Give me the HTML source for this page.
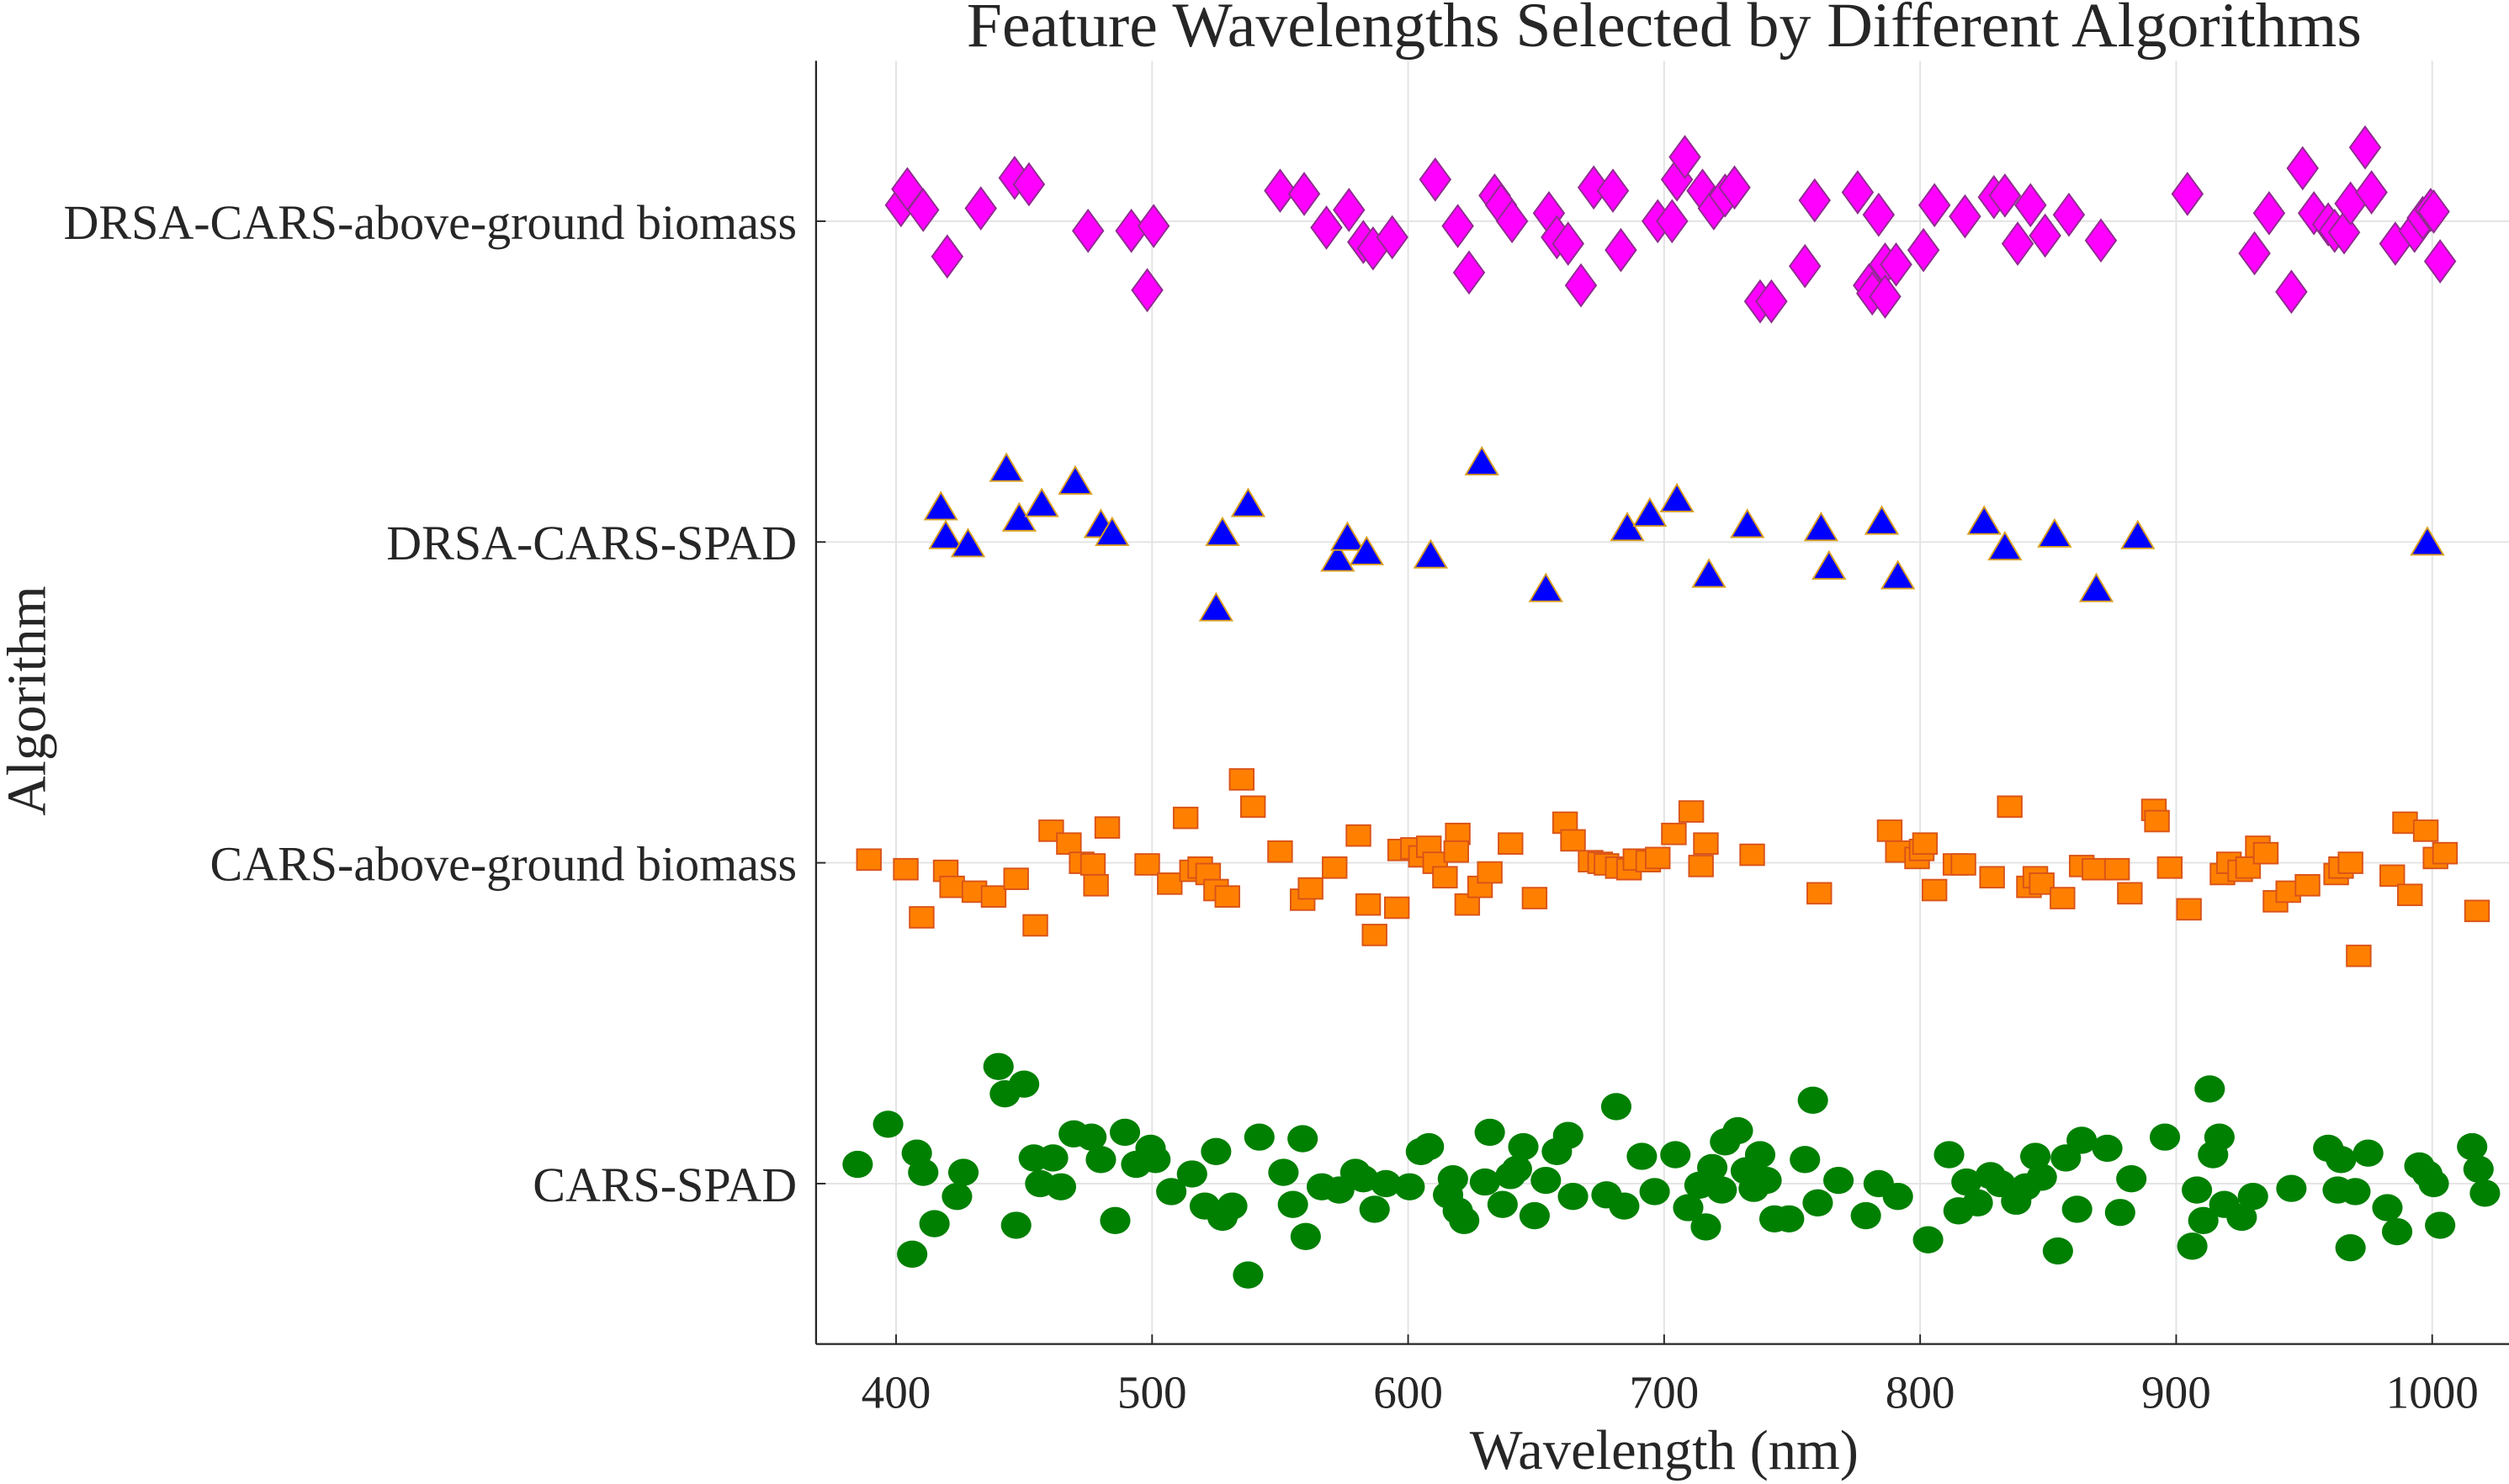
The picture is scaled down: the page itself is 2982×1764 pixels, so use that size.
<!DOCTYPE html>
<html><head><meta charset="utf-8"><style>
html,body{margin:0;padding:0;background:#fff}
svg{display:block}
text{font-family:"Liberation Serif",serif;fill:#262626}
</style></head><body>
<svg id="chart" width="2982" height="1764" viewBox="0 0 1568 927.5" preserveAspectRatio="none" xmlns="http://www.w3.org/2000/svg">
<rect x="0" y="0" width="1568" height="927.5" fill="#fff"/>
<g id="grid"></g>
<g id="marks"></g>
<g id="axes"></g>
<text x="1040" y="29" font-size="39.8" text-anchor="middle">Feature Wavelengths Selected by Different Algorithms</text>
<text x="1040" y="918" font-size="35" text-anchor="middle">Wavelength (nm)</text>
<text x="0" y="0" font-size="34.5" text-anchor="middle" transform="translate(28,438) rotate(-90)">Algorithm</text>
</svg>
<script>
const categories = ["CARS-SPAD","CARS-above-ground biomass","DRSA-CARS-SPAD","DRSA-CARS-above-ground biomass"];
const xTicks = [400,500,600,700,800,900,1000];

const spadX = [385,396.9,406.3,408.1,410.6,415,423.8,426.3,440,442.5,446.9,450,453.8,456.3,461.3,464.4,469.4,476.3,480,485.6,489.4,493.8,499.4,501.3,507.5,515.6,520.6,525,527.5,531.3,537.5,541.9,551.3,555,558.8,560,566.3,573.1,579.4,582.5,586.9,591.3,600.6,605,608.1,615.6,617.5,619.4,621.9,630,631.9,636.9,640,642.5,645,649.4,653.8,658.1,662.5,664.4,677.5,681.3,684.4,691.3,696.3,704.4,709.4,713.8,716.3,718.8,722.5,723.8,728.8,731.9,735,737.5,740,743.1,748.8,755,758.1,760,768.1,778.8,783.8,791.3,803.1,811.3,815,818.1,822.5,827.5,831.3,837.5,841.3,845,847.5,853.8,856.9,861.3,863.1,873.1,878.1,882.5,895.6,906.3,908.1,910.6,914.4,913.1,916.9,918.8,925.6,930,945,959.4,963.1,964.4,968.1,970,975,982.5,986.3,995,998.1,1000.6,1003.1,1015.6,1018.1,1020.6];
const spadJ = [.06,.185,-.22,.095,.035,-.125,-.04,.035,.365,.28,-.13,.31,.08,0,.08,-.01,.155,.145,.075,-.115,.16,.06,.11,.075,-.025,.03,-.07,.1,-.105,-.07,-.285,.145,.035,-.065,.14,-.165,-.01,-.02,.035,.015,-.08,0,-.01,.1,.115,-.035,.015,-.085,-.115,.005,.16,-.065,.025,.045,.115,-.1,.01,.1,.15,-.04,-.035,.24,-.07,.085,-.025,.09,-.075,-.005,-.135,.05,-.02,.13,.165,.04,-.015,.09,.01,-.11,-.11,.075,.26,-.06,.01,-.1,0,-.04,-.175,.09,-.085,.005,-.06,.025,0,-.055,-.01,.085,.02,-.21,.08,-.08,.135,.11,-.09,.015,.145,-.195,-.02,-.115,.09,.295,.145,-.065,-.105,-.04,-.015,.11,-.02,.075,-.2,-.025,.095,-.075,-.15,.055,.03,0,-.13,.115,.045,-.03];

const agbX = [389.4,403.8,410,419.4,421.9,430.6,438.1,446.9,454.4,460.6,467.5,472.5,476.9,478.1,482.5,498.1,506.9,513.1,515.6,518.8,521.9,525,529.4,535,539.4,550,558.8,561.9,571.3,580.6,584.4,586.9,595.6,596.9,601.9,605,608.1,610.6,614.4,619.4,618.8,623.1,628.1,631.9,640,649.4,661.3,664.4,671.3,675,677.5,681.9,686.3,688.8,693.8,697.5,703.8,710.6,714.4,716.3,734.4,760.6,788.1,791.3,798.8,800.6,801.9,805.6,813.8,816.9,828.1,835,842.5,845,847.5,855.6,863.1,868.1,876.9,881.9,891.3,892.5,897.5,905,918.1,920.6,925,928.1,931.9,935,938.8,943.8,951.3,962.5,964.4,968.1,971.3,984.4,989.4,991.3,997.5,1001.3,1005,1017.5];
const agbJ = [.01,-.02,-.17,-.025,-.075,-.09,-.105,-.05,-.195,.1,.06,0,-.005,-.07,.11,-.005,-.065,.14,-.025,-.015,-.035,-.085,-.105,.26,.175,.035,-.115,-.08,-.015,.085,-.13,-.225,-.14,.04,.045,.02,.05,0,-.045,.09,.035,-.13,-.075,-.03,.06,-.11,.125,.07,.005,0,-.005,-.015,-.02,.01,.005,.015,.09,.16,-.01,.06,.025,-.095,.1,.035,.015,.04,.06,-.085,-.005,-.005,-.045,.175,-.075,-.045,-.065,-.11,-.01,-.02,-.02,-.095,.165,.13,-.015,-.145,-.035,0,-.025,-.015,.05,.03,-.12,-.09,-.07,-.035,-.015,0,-.29,-.04,.125,-.1,.1,.015,.03,-.15];

const dspadX = [417.5,419.4,428.1,443.1,448.1,456.9,470,480,484.4,525,527.5,537.5,572.5,576.3,583.8,608.8,628.8,653.8,685.6,694.4,705,717.5,732.5,761.3,764.4,785,791.3,825,833.1,852.5,868.8,885,998.1];
const dspadJ = [.105,.015,-.01,.225,.07,.115,.185,.05,.025,-.21,.025,.115,-.055,.01,-.035,-.045,.245,-.15,.04,.085,.13,-.105,.05,.04,-.08,.06,-.11,.06,-.02,.02,-.15,.015,-.005];

const dagbX = [401.9,404.4,410.6,420,433.1,446.3,451.9,475,491.9,498.1,500.6,550,559.4,568.1,576.9,582.5,586.3,593.8,610.6,619.4,623.8,633.8,636.3,640.6,655,658.1,662.5,667.5,683.1,672.5,680,697.5,703.1,705,708.1,715,719.4,723.8,727.5,737.5,741.9,755,758.8,775.6,780,783.8,786.3,781.3,786.3,790.6,801.3,805.6,817.5,828.8,833.1,838.1,843.1,848.8,858.1,870.6,904.4,930.6,936.3,945,949.4,953.8,959.4,961.9,965.6,968.1,973.8,976.3,985.6,993.1,996.3,999.4,1003.1,1000.6];
const dagbJ = [.05,.1,.035,-.11,.04,.135,.115,-.03,-.03,-.215,-.015,.095,.085,-.02,.035,-.065,-.085,-.05,.13,-.015,-.16,.08,.05,0,.025,-.05,-.07,-.2,-.09,.105,.095,0,0,.13,.2,.095,.04,.08,.105,-.25,-.25,-.14,.065,.09,-.2,.02,-.135,-.225,-.235,-.135,-.09,.05,.015,.075,.08,-.07,.05,-.045,.02,-.06,.085,-.1,.025,-.22,.165,.025,-.01,-.03,-.035,.055,.23,.09,-.07,-.03,.01,.035,-.125,.03];

const L=510,R=1568,T=38,B=840;
const xMin=368.75,xMax=1030,yMin=0.5,yMax=4.5;
const xs=v=>L+(v-xMin)/(xMax-xMin)*(R-L);
const ys=v=>B-(v-yMin)/(yMax-yMin)*(B-T);
const NS="http://www.w3.org/2000/svg";
function mk(tag,attrs,parent){const e=document.createElementNS(NS,tag);for(const k in attrs)e.setAttribute(k,attrs[k]);parent.appendChild(e);return e;}
const grid=document.getElementById('grid'),marks=document.getElementById('marks'),axes=document.getElementById('axes');

xTicks.forEach(t=>{
  const g=mk('line',{x1:xs(t),x2:xs(t),y1:T,y2:B,stroke:'#e3e3e3','stroke-width':1},grid);
  
  
  const tk=mk('line',{x1:xs(t),x2:xs(t),y1:B,y2:B-6,stroke:'#262626','stroke-width':1},axes);
  
  
  const lb=mk('text',{x:xs(t),y:B+40,'font-size':29,'text-anchor':'middle'},axes);
  lb.textContent=t;
  
  
});
categories.forEach((c,i)=>{
  const y=ys(i+1);
  const g=mk('line',{x1:L,x2:R,y1:y,y2:y,stroke:'#e3e3e3','stroke-width':1},grid);
  
  
  const tk=mk('line',{x1:L,x2:L+6,y1:y,y2:y,stroke:'#262626','stroke-width':1},axes);
  
  
  const lb=mk('text',{x:L-12,y:y+11,'font-size':30.5,'text-anchor':'end'},axes);
  lb.textContent=c;
  
  
});
const ax1=mk('line',{x1:L,x2:L,y1:T,y2:B,stroke:'#262626','stroke-width':1.2},axes);


const ax2=mk('line',{x1:L,x2:R,y1:B,y2:B,stroke:'#262626','stroke-width':1.2},axes);



spadX.forEach((w,i)=>{
  const e=mk('ellipse',{cx:xs(w),cy:ys(1+spadJ[i]),rx:9.5,ry:8.5,fill:'#008000'},marks);
  
  
});
agbX.forEach((w,i)=>{
  const cx=xs(w),cy=ys(2+agbJ[i]);
  const e=mk('rect',{x:cx-7.5,y:cy-6.5,width:15,height:13,fill:'#ff8000',stroke:'#d95319','stroke-width':1},marks);
  
  
});
dspadX.forEach((w,i)=>{
  const cx=xs(w),cy=ys(3+dspadJ[i]);
  const e=mk('polygon',{points:`${cx},${cy-10} ${cx+10},${cy+7} ${cx-10},${cy+7}`,fill:'#0000ff',stroke:'#d9a020','stroke-width':1},marks);
  
  
});
dagbX.forEach((w,i)=>{
  const cx=xs(w),cy=ys(4+dagbJ[i]);
  const e=mk('polygon',{points:`${cx},${cy-13} ${cx+9.5},${cy} ${cx},${cy+13} ${cx-9.5},${cy}`,fill:'#ff00ff',stroke:'#8e2c8e','stroke-width':1},marks);
  
  
});
</script>
</body></html>
